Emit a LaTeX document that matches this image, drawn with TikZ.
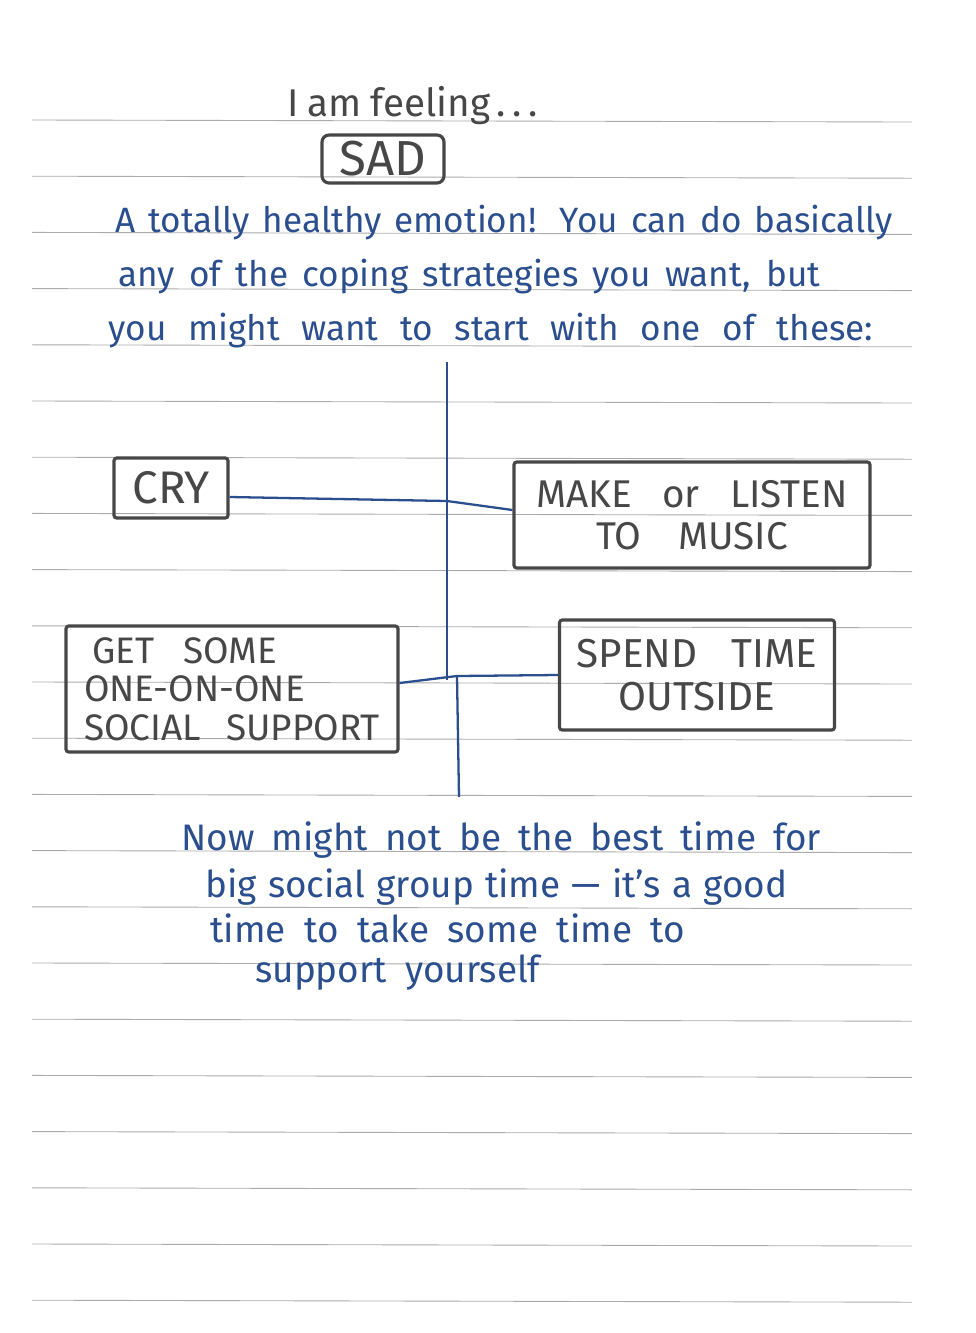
\documentclass[tikz,border=0pt]{standalone}
\usepackage{fontspec}
\setmainfont{Fira Sans}
\usetikzlibrary{calc,positioning}
\definecolor{ink}{HTML}{474747}
\definecolor{pen}{HTML}{2B4F8E}
\definecolor{rule}{HTML}{ABABAB}
\newcommand{\handline}[2]{\makebox[#1][s]{#2}}
\tikzset{optbox/.style={draw=ink,line width=1.8pt,rounded corners=1.5pt,text=ink,align=center,inner sep=0pt},
  pentext/.style={text=pen,anchor=base west,inner sep=0pt,font=\fontsize{20}{22}\selectfont},
  link/.style={pen,line width=1.3pt}}

\begin{document}
\begin{tikzpicture}[x=0.02cm,y=-0.02cm]
\useasboundingbox[fill=white] (0,0) rectangle (976,1333);
% ruled paper
\foreach \k in {0,...,21}{\draw[rule,line width=.5pt] (32,120+56.2*\k) -- (912,122+56.2*\k);}
% heading
\node[text=ink,anchor=base west,inner sep=0pt,font=\fontsize{22}{24}\selectfont] (feel) at (287,116) {\handline{5cm}{I am feeling\,.\,.\,.}};
\node[optbox,minimum width=2.44cm,minimum height=0.96cm,rounded corners=4pt,font=\fontsize{28}{30}\selectfont] (sad) at (383,159) {SAD};
% intro lines
\node[pentext] (introa) at (115,232) {\handline{15.56cm}{A totally healthy emotion! You can do basically}};
\node[pentext] (introb) at (118,286) {\handline{14.04cm}{any of the coping strategies you want, but}};
\node[pentext] (introc) at (108,340) {\handline{15.3cm}{you might want to start with one of these:}};
% options
\node[optbox,minimum width=2.28cm,minimum height=1.2cm,font=\fontsize{26}{28}\selectfont] (cry) at (171,488) {CRY};
\node[optbox,minimum width=7.12cm,minimum height=2.12cm,font=\fontsize{22}{24}\selectfont] (music) at (692,515) {\handline{6.24cm}{MAKE or LISTEN}\\\handline{3.84cm}{TO MUSIC}};
\node[optbox,minimum width=6.64cm,minimum height=2.52cm,align=left,font=\fontsize{21}{22}\selectfont] (support) at (232,689) {\hspace{0.16cm}\handline{3.7cm}{GET SOME}\\ONE-ON-ONE\\\handline{5.92cm}{SOCIAL SUPPORT}};
\node[optbox,minimum width=5.5cm,minimum height=2.2cm,font=\fontsize{23}{24}\selectfont] (outside) at (697,675) {\handline{4.82cm}{SPEND TIME}\\OUTSIDE};
% spine and links
\coordinate (spinetop) at (447,362);\coordinate (spinecry) at (447,501);\coordinate (spinejog) at (447,680);
\coordinate (spinesup) at (457,676);\coordinate (spinebot) at (459,797);
\draw[link] (spinetop) -- (spinejog);\draw[link] (spinesup) -- (spinebot);
\draw[link] ([yshift=-0.18cm]cry.east) -- (spinecry) -- ([yshift=0.1cm]music.west);
\draw[link] ([yshift=0.12cm]support.east) -- (spinesup) -- (outside.west);
% closing note
\node[pentext,font=\fontsize{21}{24}\selectfont] (nowa) at (181,850) {\handline{12.8cm}{Now might not be the best time for}};
\node[pentext,font=\fontsize{21}{24}\selectfont] (nowb) at (205,897) {\handline{11.64cm}{big social group time — it's a good}};
\node[pentext,font=\fontsize{21}{24}\selectfont] (nowc) at (210,942) {\handline{9.5cm}{time to take some time to}};
\node[pentext,font=\fontsize{21}{24}\selectfont] (nowd) at (255,982) {\handline{5.7cm}{support yourself}};
\end{tikzpicture}
\end{document}
